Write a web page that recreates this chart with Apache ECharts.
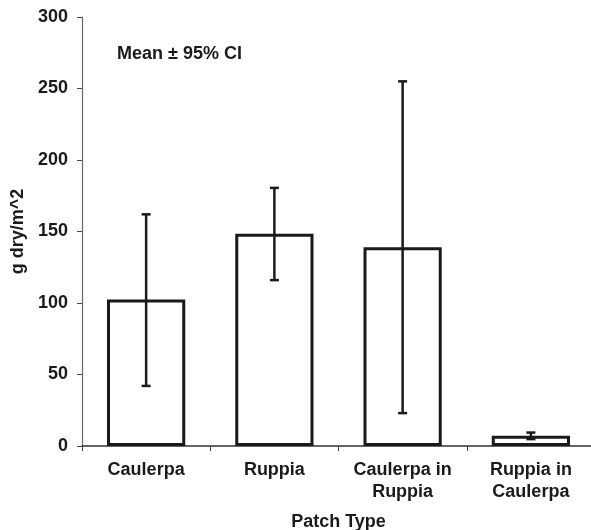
<!DOCTYPE html>
<html>
<head>
<meta charset="utf-8">
<script src="https://cdn.jsdelivr.net/npm/echarts@6/dist/echarts.min.js"></script>
<style>
  html, body { margin: 0; padding: 0; background: #fff; }
  #chart { width: 591px; height: 530px; }
</style>
</head>
<body>
<div id="chart"></div>
<script>
  // patch types and biomass (g dry/m^2)
  const categories = ['Caulerpa', 'Ruppia', 'Caulerpa in\nRuppia', 'Ruppia in\nCaulerpa'];
  const means = [102.5, 148.5, 139, 7.2];
  const ciLow = [42, 116, 23, 4.8];
  const ciHigh = [162, 180.5, 255, 9.4];
  const yTicks = [0, 50, 100, 150, 200, 250, 300];

  const font = '"Liberation Sans", Arial, sans-serif';
  const ink = '#1a1a1a';
  const chart = echarts.init(document.getElementById('chart'));

  chart.setOption({
    animation: false,
    grid: { left: 82, right: -4, top: 17, bottom: 84, outerBoundsMode: 'none' },
    graphic: [{
      type: 'text',
      left: 117,
      top: 45,
      style: { text: 'Mean \u00b1 95% CI', font: 'bold 18px ' + font, fill: ink }
    }],
    xAxis: {
      type: 'category',
      data: categories,
      name: 'Patch Type',
      nameLocation: 'middle',
      nameGap: 67,
      nameTextStyle: { fontFamily: font, fontWeight: 'bold', fontSize: 18, color: ink, verticalAlign: 'top' },
      axisLine: { lineStyle: { color: '#333', width: 1.5 } },
      axisTick: { show: true, interval: 0, length: 5, lineStyle: { color: '#444' } },
      axisLabel: { interval: 0, fontFamily: font, fontWeight: 'bold', fontSize: 18, color: ink, margin: 13, lineHeight: 22 }
    },
    yAxis: {
      type: 'value',
      min: 0,
      max: 300,
      interval: 50,
      name: 'g dry/m^2',
      nameLocation: 'middle',
      nameGap: 49,
      nameTextStyle: { fontFamily: font, fontWeight: 'bold', fontSize: 18, color: ink },
      axisLine: { show: true, lineStyle: { color: '#666', width: 1.2 } },
      axisTick: { show: true, length: 5, lineStyle: { color: '#444' } },
      splitLine: { show: false },
      axisLabel: {
        fontFamily: font, fontWeight: 'bold', fontSize: 18, color: ink, margin: 14,
        formatter: v => yTicks.includes(v) ? String(v) : ''
      }
    },
    series: [
      {
        type: 'bar',
        data: means,
        barWidth: '61%',
        itemStyle: { color: '#fff', borderColor: ink, borderWidth: 3 }
      },
      {
        type: 'custom',
        data: categories.map((c, i) => [i, ciLow[i], ciHigh[i]]),
        z: 5,
        renderItem: function (params, api) {
          const lo = api.coord([api.value(0), api.value(1)]);
          const hi = api.coord([api.value(0), api.value(2)]);
          const cap = 4.5;
          const style = { stroke: ink, lineWidth: 2.5 };
          return {
            type: 'group',
            children: [
              { type: 'line', shape: { x1: hi[0], y1: hi[1], x2: lo[0], y2: lo[1] }, style: style },
              { type: 'line', shape: { x1: hi[0] - cap, y1: hi[1], x2: hi[0] + cap, y2: hi[1] }, style: style },
              { type: 'line', shape: { x1: lo[0] - cap, y1: lo[1], x2: lo[0] + cap, y2: lo[1] }, style: style }
            ]
          };
        }
      }
    ]
  });
</script>
</body>
</html>
